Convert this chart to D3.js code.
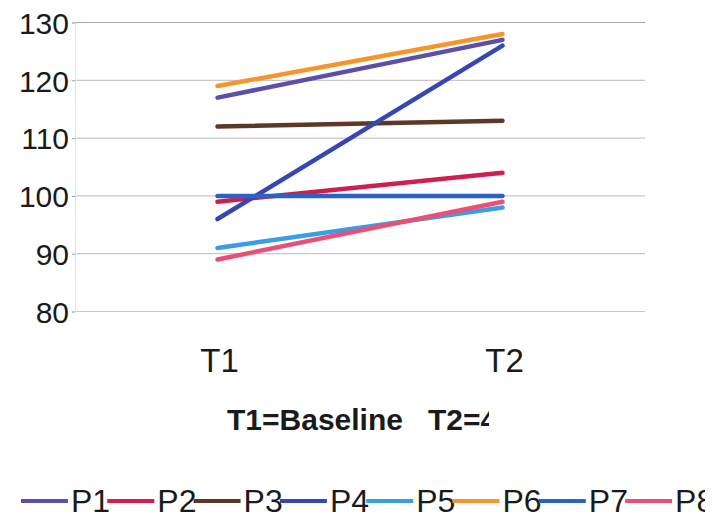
<!DOCTYPE html>
<html>
<head>
<meta charset="utf-8">
<script src="https://cdn.jsdelivr.net/npm/d3@7"></script>
<style>
  body { margin: 0; background: #fff; }
  svg { display: block; font-family: "Liberation Sans", Arial, sans-serif; }
</style>
</head>
<body>
<div id="chart"></div>
<script>
var times = ["T1", "T2"]
var yTicks = [80, 90, 100, 110, 120, 130]
var names = ["P1", "P2", "P3", "P4", "P5", "P6", "P7", "P8"]
var colors = ["#5b4fae", "#d01f4f", "#5e3826", "#3646b4", "#3b9de6", "#f7942c", "#2b63c4", "#ec4f76"]
var p1 = [117, 127]
var p2 = [99, 104]
var p3 = [112, 113]
var p4 = [96, 126]
var p5 = [91, 98]
var p6 = [119, 128]
var p7 = [100, 100]
var p8 = [89, 99]
var series = [p1, p2, p3, p4, p5, p6, p7, p8]
var title = "T1=Baseline   T2=4"

var width = 726,
	height = 519

var xScale = d3.scalePoint()
				.domain(times)
				.range([75, 645])
				.padding(0.5)

var yScale = d3.scaleLinear()
				.domain([80, 130])
				.range([311.5, 22.5])

var svg = d3.select("#chart").append("svg")
			.attr("width", width)
			.attr("height", height)

svg.append("defs").append("clipPath").attr("id", "titleclip")
	.append("rect").attr("x", 0).attr("y", 380).attr("width", 489).attr("height", 70)
svg.select("defs").append("clipPath").attr("id", "legclip")
	.append("rect").attr("x", 0).attr("y", 470).attr("width", 705).attr("height", 49)

// gridlines
svg.append("g").selectAll("line")
	.data(yTicks).enter()
	.append("line")
	.attr("x1", 75)
	.attr("x2", 645)
	.attr("y1", function(d){ return yScale(d) })
	.attr("y2", function(d){ return yScale(d) })
	.attr("stroke", function(d){ return d == 130 ? "#a8a8a8" : "#c8c8c8" })
	.attr("stroke-width", 1.2)

// y axis
var yAxis = svg.append("g")
	.attr("transform", "translate(75,0)")
	.call(d3.axisLeft(yScale).tickValues(yTicks).tickSize(3).tickPadding(3))
yAxis.select(".domain").attr("stroke", "#e2e2e2")
yAxis.selectAll(".tick line").attr("stroke", "#999")
yAxis.selectAll("text")
	.attr("font-size", 30)
	.attr("font-family", "Liberation Sans, Arial, sans-serif")
	.attr("fill", "#1a1a1a")
	.attr("dy", "0.36em")

// x labels
svg.append("g").selectAll("text")
	.data(times).enter()
	.append("text")
	.attr("x", function(d){ return xScale(d) + 2 })
	.attr("y", 372)
	.attr("text-anchor", "middle")
	.attr("font-size", 33)
	.attr("fill", "#1a1a1a")
	.text(function(d){ return d })

// lines
var line = d3.line()
	.x(function(d, i){ return xScale(times[i]) })
	.y(function(d){ return yScale(d) })

svg.append("g").selectAll("path")
	.data(series).enter()
	.append("path")
	.attr("d", function(d){ return line(d) })
	.attr("fill", "none")
	.attr("stroke", function(d, i){ return colors[i] })
	.attr("stroke-width", 4.5)
	.attr("stroke-linecap", "round")

// title (cut at the right, as in the source)
svg.append("text")
	.attr("clip-path", "url(#titleclip)")
	.attr("x", 227)
	.attr("y", 430)
	.attr("font-size", 30)
	.attr("font-weight", "bold")
	.attr("fill", "#1a1a1a")
	.style("white-space", "pre")
	.text(title)

// legend
var leg = svg.append("g").attr("clip-path", "url(#legclip)")
var items = leg.selectAll("g")
	.data(names).enter()
	.append("g")
	.attr("transform", function(d, i){ return "translate(" + (21 + i * 86.3) + ",0)" })
items.append("line")
	.attr("x1", 0).attr("x2", 47)
	.attr("y1", 501).attr("y2", 501)
	.attr("stroke", function(d, i){ return colors[i] })
	.attr("stroke-width", 4)
items.append("text")
	.attr("x", 50)
	.attr("y", 512)
	.attr("font-size", 32)
	.attr("fill", "#1a1a1a")
	.text(function(d){ return d })
</script>
</body>
</html>
